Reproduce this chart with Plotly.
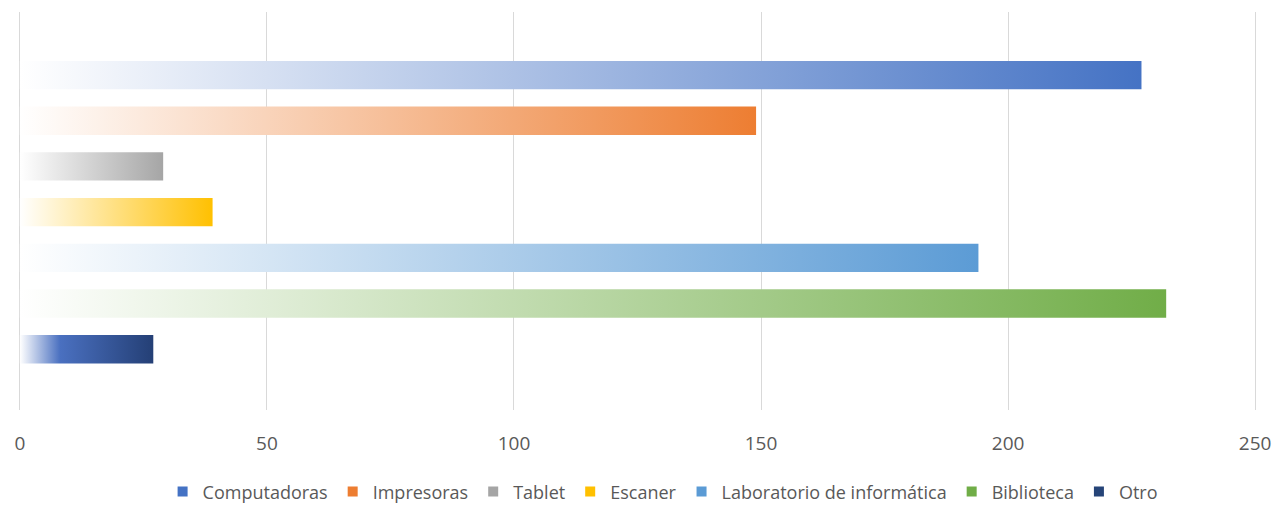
import plotly.graph_objects as go

# Recursos utilizados (cantidad de respuestas)
categories = ["Computadoras", "Impresoras", "Tablet", "Escaner",
              "Laboratorio de informática", "Biblioteca", "Otro"]
values = [227, 149, 29, 39, 194, 232, 27]
colors = ["#4472C4", "#ED7D31", "#A5A5A5", "#FFC000",
          "#5B9BD5", "#70AD47", "#264478"]
x_ticks = [0, 50, 100, 150, 200, 250]

half = 0.31  # half bar thickness in category units

fig = go.Figure()

for i, (name, val, col) in enumerate(zip(categories, values, colors)):
    if name == "Otro":
        scale = [[0, "#ffffff"], [0.3, "#4a70c0"], [1, "#243f75"]]
    else:
        scale = [[0, "#ffffff"], [1, col]]
    # gradient-filled horizontal bar from 0 to the value
    fig.add_trace(go.Scatter(
        x=[0, val, val, 0, 0],
        y=[i - half, i - half, i + half, i + half, i - half],
        mode="lines",
        line=dict(width=0),
        fill="toself",
        fillgradient=dict(type="horizontal", colorscale=scale,
                          start=0, stop=val),
        hoverinfo="skip",
        showlegend=False,
    ))
    # legend entry
    fig.add_trace(go.Scatter(
        x=[None], y=[None], mode="markers", name=name,
        marker=dict(symbol="square", size=10, color=col),
    ))

fig.update_layout(
    width=1281, height=506,
    margin=dict(l=10, r=11, t=12, b=96),
    paper_bgcolor="white", plot_bgcolor="white",
    font=dict(family="Open Sans", color="#595959", size=18),
    xaxis=dict(
        range=[-2, 252], tickvals=x_ticks, showgrid=True,
        gridcolor="#d9d9d9", gridwidth=1, zeroline=False,
        showline=False, ticklabelstandoff=20,
        tickfont=dict(size=19, color="#595959"),
    ),
    yaxis=dict(
        range=[7.33, -1.38], showticklabels=False, showgrid=False,
        zeroline=False, showline=False,
    ),
    legend=dict(
        orientation="h", x=0.52, xanchor="center",
        yref="container", y=0.028, yanchor="middle",
        font=dict(size=18, color="#595959"),
        itemwidth=30, tracegroupgap=0,
    ),
)

fig.write_html("out.html")
